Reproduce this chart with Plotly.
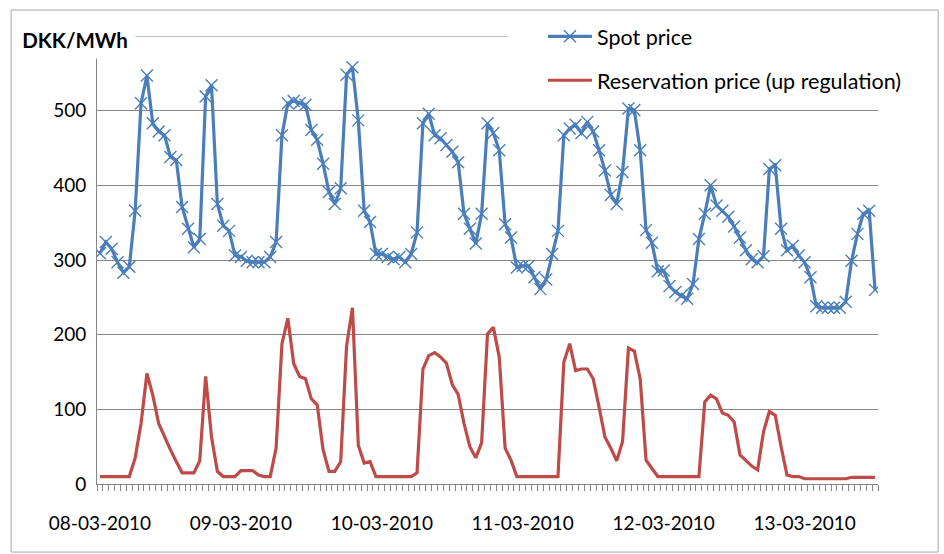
import plotly.graph_objects as go

# Hourly prices, 08-03-2010 00:00 to 13-03-2010 12:00
spot_price = [
    309, 324, 315, 297, 283, 291, 366, 510, 547, 483, 472, 467,
    438, 434, 371, 342, 317, 328, 519, 534, 375, 346, 339, 306,
    304, 299, 297, 297, 297, 304, 324, 467, 510, 513, 510, 508,
    474, 461, 429, 391, 375, 396, 548, 558, 487, 366, 351, 308,
    308, 304, 301, 304, 297, 308, 337, 483, 496, 467, 463, 454,
    445, 431, 362, 342, 322, 362, 483, 470, 447, 348, 330, 290,
    292, 292, 277, 261, 274, 308, 339, 467, 476, 481, 470, 485,
    472, 447, 420, 387, 375, 418, 503, 501, 447, 340, 323, 285,
    286, 265, 257, 252, 248, 268, 328, 362, 400, 373, 366, 358,
    345, 330, 313, 301, 297, 305, 422, 427, 342, 313, 319, 306,
    297, 277, 238, 236, 236, 236, 236, 244, 299, 335, 362, 366,
    260,
]

reservation_price = [
    10, 10, 10, 10, 10, 10, 35, 81, 148, 119, 81, 63,
    46, 30, 15, 15, 15, 31, 144, 63, 17, 10, 10, 10,
    18, 18, 18, 12, 10, 10, 48, 188, 222, 161, 144, 141,
    114, 106, 46, 17, 17, 30, 185, 236, 52, 28, 30, 10,
    10, 10, 10, 10, 10, 10, 15, 154, 172, 176, 170, 162,
    133, 120, 81, 50, 35, 55, 201, 210, 170, 48, 32, 10,
    10, 10, 10, 10, 10, 10, 10, 163, 188, 152, 154, 154,
    141, 103, 63, 48, 31, 57, 182, 178, 141, 32, 21, 10,
    10, 10, 10, 10, 10, 10, 10, 110, 119, 114, 95, 92,
    83, 39, 32, 24, 19, 70, 97, 92, 50, 12, 10, 10,
    7, 7, 7, 7, 7, 7, 7, 7, 9, 9, 9, 9,
    9,
]

day_labels = ["08-03-2010", "09-03-2010", "10-03-2010",
              "11-03-2010", "12-03-2010", "13-03-2010"]
y_ticks = [0, 100, 200, 300, 400, 500, 600]

hours = list(range(len(spot_price)))

FONT = "Lato"
GRID = "#868686"
BLUE = "#4A7EBB"
RED = "#BE4B48"

fig = go.Figure()

fig.add_trace(go.Scatter(
    x=hours, y=spot_price, name="Spot price", mode="lines+markers",
    line=dict(color=BLUE, width=3.2),
    marker=dict(symbol="x-thin", size=12, color=BLUE,
                line=dict(color=BLUE, width=1.4)),
    legendgroup="a",
))
fig.add_trace(go.Scatter(
    x=hours, y=reservation_price, name="Reservation price (up regulation)",
    mode="lines", line=dict(color=RED, width=3.2),
    legendgroup="b",
))

fig.update_layout(
    width=944, height=554,
    margin=dict(l=97, r=66, t=36, b=70),
    paper_bgcolor="white", plot_bgcolor="white",
    font=dict(family=FONT, size=19, color="#000000"),
    showlegend=True,
    legend=dict(
        x=0.571, xanchor="left", y=1.045, yanchor="top",
        bgcolor="white", borderwidth=0,
        font=dict(family=FONT, size=21.5, color="#000000"),
        itemwidth=44, tracegroupgap=13,
    ),
    xaxis=dict(
        range=[-0.5, len(spot_price) - 0.5],
        tickmode="array",
        tickvals=[24 * i for i in range(len(day_labels))],
        ticktext=day_labels,
        ticks="", ticklabelstandoff=22,
        showgrid=False, zeroline=False,
        showline=True, linecolor=GRID, linewidth=1,
        minor=dict(tickmode="linear", tick0=-0.5, dtick=1,
                   ticks="outside", ticklen=6, tickcolor=GRID,
                   tickwidth=1, showgrid=False),
        tickfont=dict(family=FONT, size=19, color="#000000"),
    ),
    yaxis=dict(
        range=[0, 600],
        tickmode="array", tickvals=y_ticks,
        ticktext=[str(v) if v < 600 else "" for v in y_ticks],
        showgrid=True, gridcolor=GRID, gridwidth=1,
        zeroline=False, showline=True, linecolor=GRID, linewidth=1,
        ticks="", ticklabelstandoff=6,
        tickfont=dict(family=FONT, size=19, color="#000000"),
    ),
    annotations=[dict(
        text="<b>DKK/MWh</b>", xref="paper", yref="paper",
        x=-0.028, y=0.991, xanchor="center", yanchor="middle",
        showarrow=False, bgcolor="white", width=118, height=34,
        font=dict(family=FONT, size=20.5, color="#000000"),
    )],
    shapes=[
        # top gridline, visible between the axis title and the legend
        dict(type="line", xref="paper", yref="y",
             x0=0, x1=0.526, y0=600, y1=600,
             line=dict(color=GRID, width=1), layer="below"),
        # chart frame
        dict(type="rect", xref="paper", yref="paper",
             x0=-0.110, x1=1.077, y0=-0.152, y1=1.058,
             line=dict(color="#A6A6A6", width=1),
             fillcolor="rgba(0,0,0,0)", layer="below"),
    ],
)

fig.write_html("out.html")
